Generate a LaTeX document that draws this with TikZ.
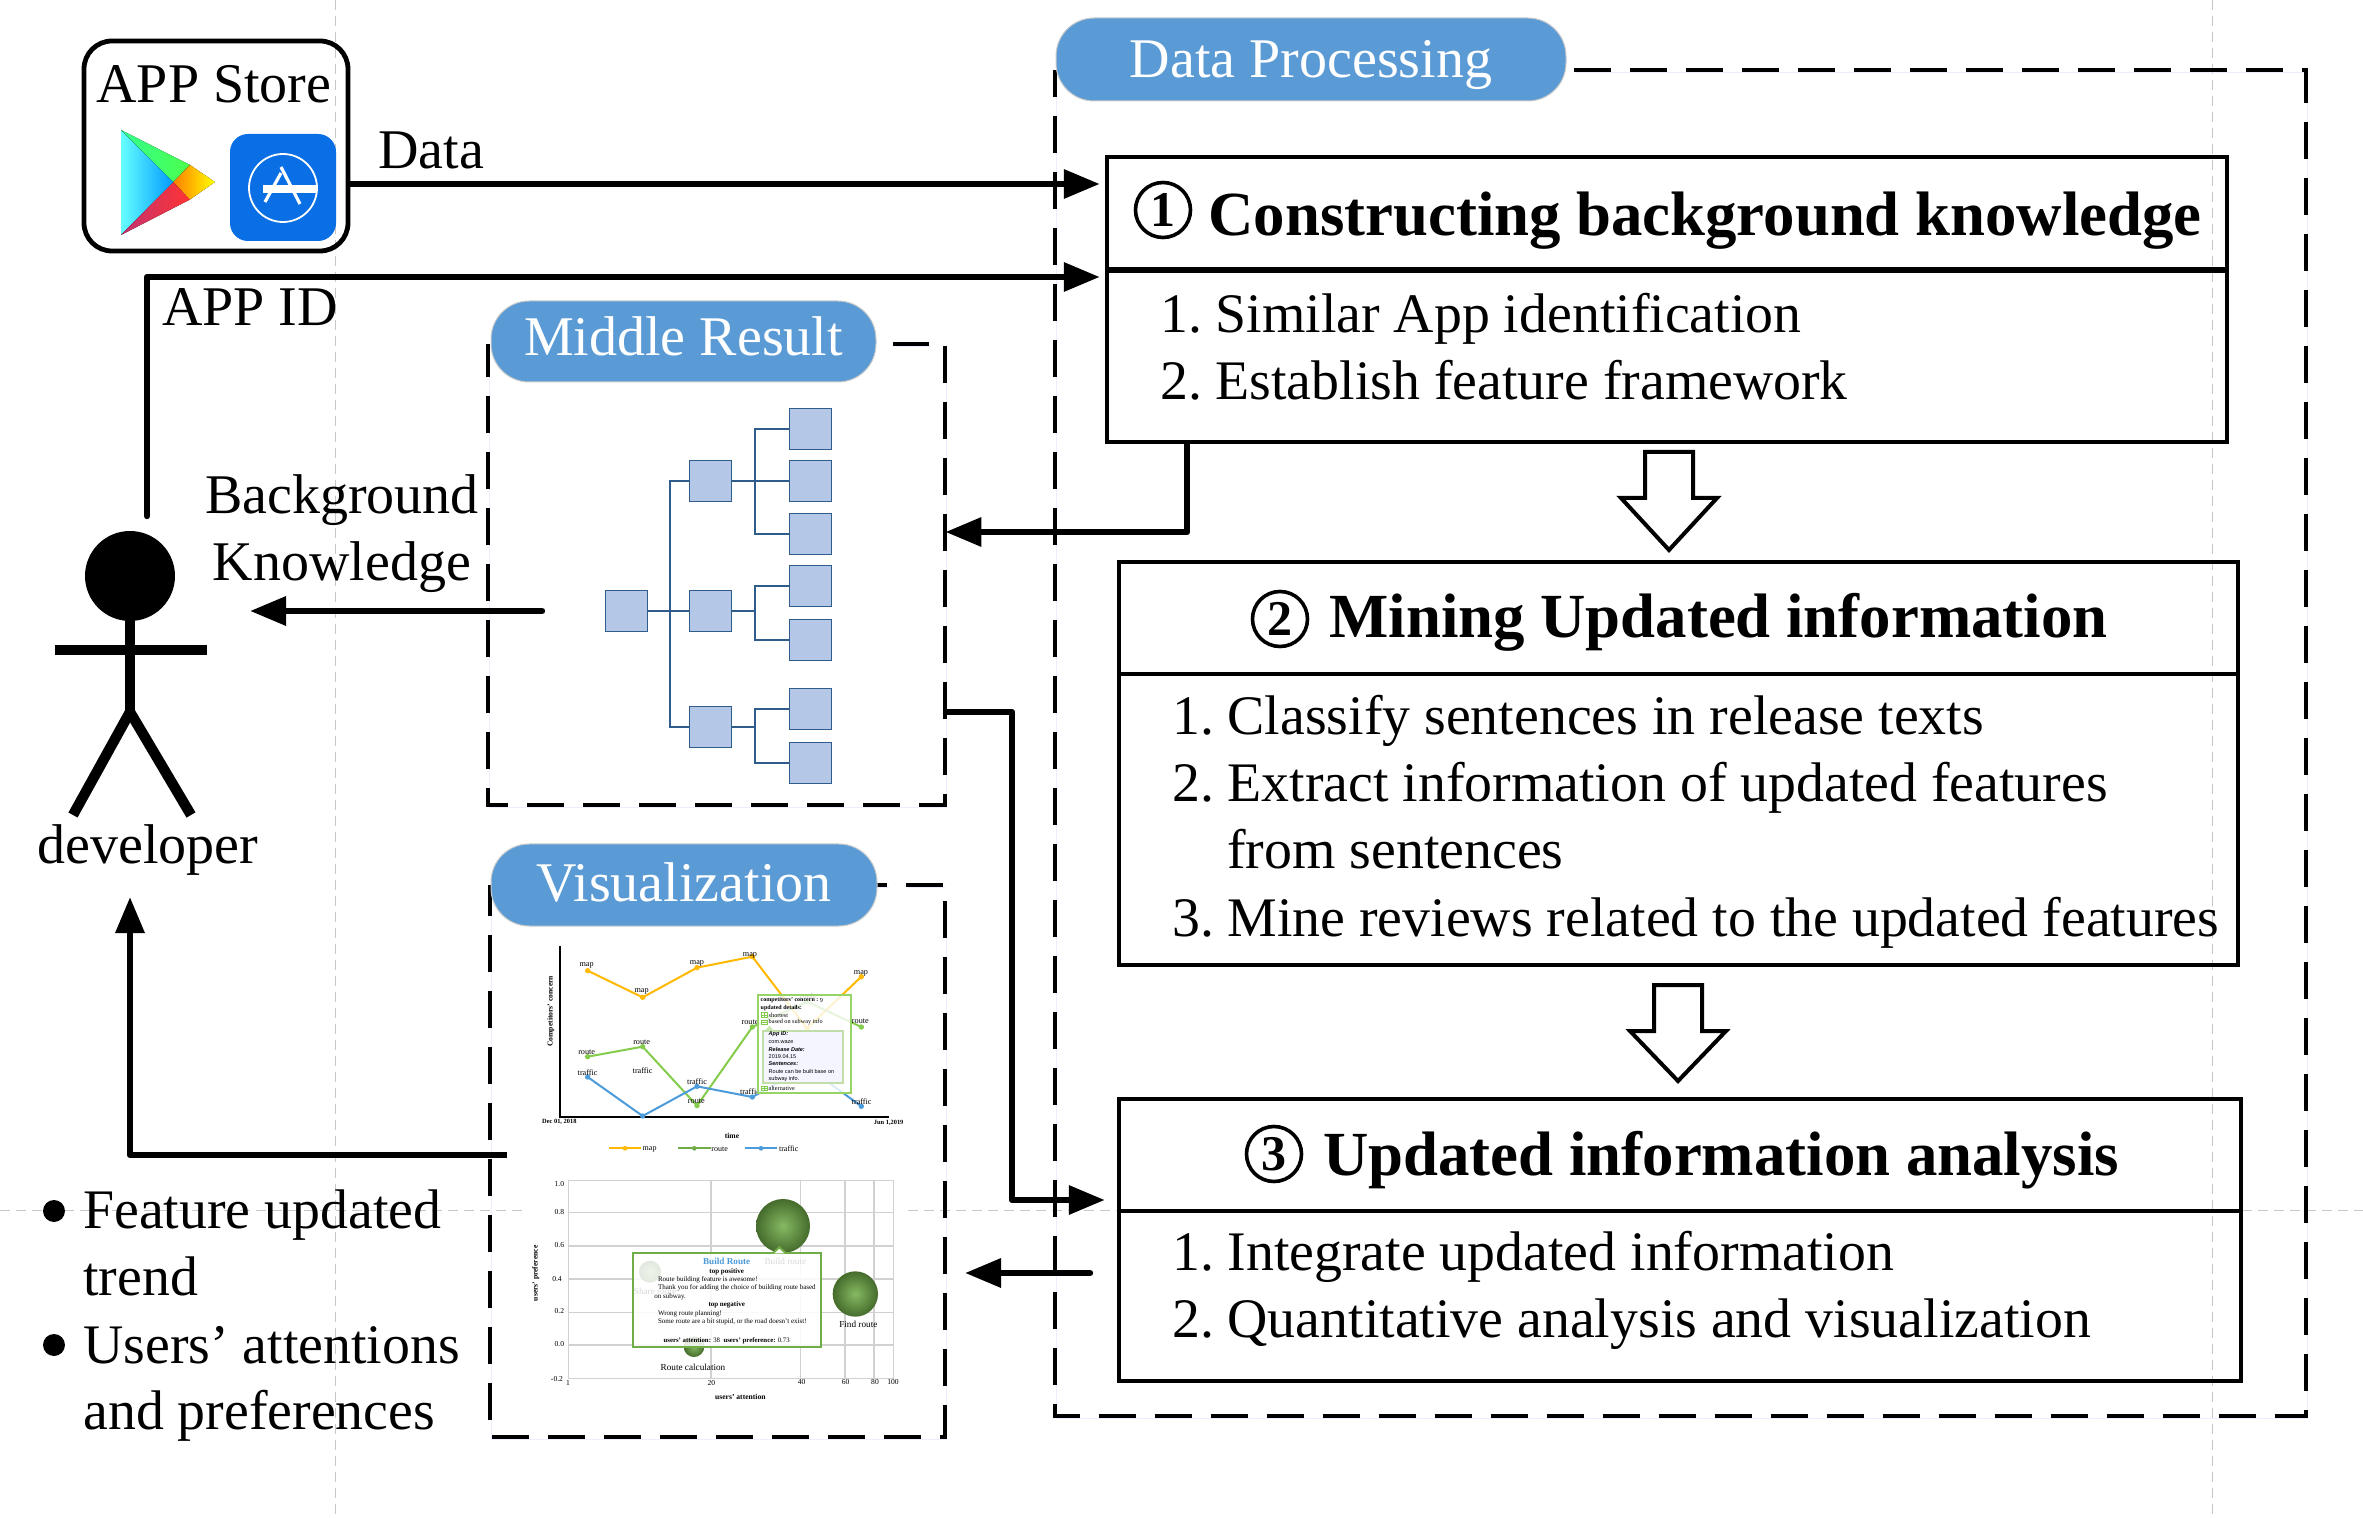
\documentclass[tikz,border=0pt]{standalone}
\usepackage{fontspec}
\setmainfont{Liberation Serif}
\newfontfamily\uisans{Liberation Sans}
\usetikzlibrary{arrows.meta,fit,calc}
\definecolor{pillblue}{HTML}{5B9BD5}
\definecolor{treefill}{HTML}{B4C7E7}
\definecolor{treeline}{HTML}{2F5C8A}
\definecolor{cmap}{HTML}{FFB900}
\definecolor{croute}{HTML}{84CC4B}
\definecolor{ctraffic}{HTML}{4C9BDB}
\definecolor{cbub}{HTML}{70AD47}
\newcommand{\fsz}[1]{\fontsize{#1}{#1}\selectfont}
\tikzset{
  conn/.style={line width=3.2pt,line join=round,-{Triangle[length=18pt,width=14pt]}},
  dashline/.style={line width=2.2pt,dash pattern=on 18.5pt off 9.5pt,
    preaction={draw=blue!7,transform canvas={shift={(.8pt,-1.4pt)}}}},
  pill/.style={draw=black!20,line width=.5pt,fill=pillblue,text=white,rounded corners=19pt,font=\fsz{28},inner sep=0pt},
  outerbox/.style={draw,line width=2.2pt,inner sep=0pt,fit={#1}},
  item/.style={anchor=base west,font=\fsz{27.9},inner sep=0pt},
  head/.style={anchor=base west,font=\bfseries\fsz{31.4},inner sep=0pt},
  plain/.style={font=\fsz{28},inner sep=0pt},
  tree/.style={draw=treeline,line width=.5pt,fill=treefill,inner sep=0pt,minimum width=21pt,minimum height=20.5pt},
  treelink/.style={draw=treeline,line width=1pt},
  hollow/.style={draw,line width=2pt,fill=white,line join=miter},
  numcirc/.style={circle,draw,line width=1.8pt,inner sep=0pt,minimum size=27.5pt,font=\bfseries\fsz{25}},
  guide/.style={draw=black!22,line width=.4pt,dash pattern=on 5pt off 3pt},
  tiny/.style={inner sep=0pt,font=\fsz{4.1}},
  tinyb/.style={inner sep=0pt,font=\bfseries\fsz{3.8}},
  tl/.style={inner sep=0pt,anchor=west,font=\fsz{3.5}},
  tlb/.style={inner sep=0pt,anchor=west,font=\bfseries\fsz{3}},
  tls/.style={inner sep=0pt,anchor=west,font=\uisans\fsz{2.75}},
  tlsb/.style={inner sep=0pt,anchor=west,font=\uisans\bfseries\itshape\fsz{2.75}},
  bublabel/.style={inner sep=0pt,font=\fsz{4.6}},
}
\newcommand{\nm}[1]{#1\hspace{.24em}}
\begin{document}
\begin{tikzpicture}[x=0.5pt,y=-0.5pt]
\useasboundingbox (0,0) rectangle (2363,1518);
\fill[white] (0,0) rectangle (2363,1518);

% faint guides
\draw[guide] (335,0) -- (335,1518);
\draw[guide] (2212,0) -- (2212,1518);
\draw[guide] (0,1210) -- (525,1210);
\draw[guide] (908,1210) -- (1119,1210);
\draw[guide] (2242,1210) -- (2363,1210);

% APP store
\node (store) [draw,line width=2.4pt,rounded corners=14pt,inner sep=0pt,fit={(84,41)(348,251)}] {};
\node (storetxt) [plain] at (214,84) {APP Store};
\fill[left color=cyan!60!white,right color=blue!40!cyan] (121,130) -- (121,235) -- (173.5,182) -- cycle;
\fill[left color=green!55!cyan!80,right color=green!70!white] (121,130) -- (190,165) -- (173.5,182) -- cycle;
\fill[left color=red!70!blue!80,right color=red!80!white] (121,235) -- (173.5,182) -- (190,199.5) -- cycle;
\fill[left color=orange,right color=yellow] (190,165) -- (215,182) -- (190,199.5) -- (173.5,182) -- cycle;
\fill[rounded corners=9pt,fill={rgb,255:red,10;green,110;blue,228}] (230,134) rectangle (336,241);
\draw[white,line width=.9pt] (283,188) circle [radius=34];
\fill[white] (263,185) rectangle (316,193);
\draw[white,line width=1.6pt] (281,167) -- (300,204);
\draw[white,line width=1.6pt] (281,173) -- (265,202);

% developer
\node (dhead) [circle,fill=black,inner sep=0pt,minimum size=45pt] at (130,576) {};
\coordinate (hip) at (130,712);
\draw[line width=5.2pt] (dhead.south) -- (hip);
\draw[line width=5.2pt] (55,650) -- (207,650);
\draw[line width=5.2pt] (73,815) -- (hip) -- (191,815);
\node (devtxt) [plain] at (148,850) {developer};

% Data Processing
\node (dp) [inner sep=0pt,fit={(1055,70)(2306,1416)}] {};
\draw[dashline] (1574,70) -- (2306,70) -- (2306,1416) -- (1055,1416) -- (1055,70);

% boxes
\node (b1) [outerbox={(1107,157)(2227,442)}] {};
\draw[line width=3.2pt] (1107,270) -- (2227,270);
\node (b2) [outerbox={(1119,562)(2238,965)}] {};
\draw[line width=2.2pt] (1119,674) -- (2238,674);
\node (b3) [outerbox={(1119,1099)(2241,1381)}] {};
\draw[line width=2.2pt] (1119,1211) -- (2241,1211);

\node (c1) [numcirc] at (1163,210) {1};
\node (t1) [head] at (1208,236) {Constructing background knowledge};
\node (i11) [item] at (1160,333) {\nm{1.}Similar App identification};
\node (i12) [item] at (1160,400) {\nm{2.}Establish feature framework};

\node (c2) [numcirc] at (1280,619) {2};
\node (t2) [head] at (1329,638) {Mining Updated information};
\node (i21) [item] at (1172,735) {\nm{1.}Classify sentences in release texts};
\node (i22) [item] at (1172,802) {\nm{2.}Extract information of updated features};
\node (i22b) [item] at (1227,869) {from sentences};
\node (i23) [item] at (1172,936) {\nm{3.}Mine reviews related to the updated features};

\node (c3) [numcirc] at (1274,1154) {3};
\node (t3) [head] at (1323,1175) {Updated information analysis};
\node (i31) [item] at (1172,1270) {\nm{1.}Integrate updated information};
\node (i32) [item] at (1172,1337) {\nm{2.}Quantitative analysis and visualization};

% hollow arrows
\draw[hollow] (1645,452) -- (1693,452) -- (1693,498) -- (1717,498) -- (1669,550) -- (1621,498) -- (1645,498) -- cycle;
\draw[hollow] (1654,985) -- (1702,985) -- (1702,1031) -- (1726,1031) -- (1678,1081) -- (1630,1031) -- (1654,1031) -- cycle;

% pills
\node (pdp) [pill,minimum width=255pt,minimum height=41.5pt] at (1311,59.5) {\raisebox{-8.8pt}[0pt][0pt]{Data Processing}};

% Middle Result
\node (mid) [inner sep=0pt,fit={(488,344)(945,805)}] {};
\draw[dashline] (945,346) -- (945,805) -- (488,805) -- (488,344);
\draw[dashline] (893,344) -- (929,344);
\node (pmid) [pill,minimum width=192.5pt,minimum height=40.5pt] at (683.5,341.5) {\raisebox{-7.1pt}[0pt][0pt]{Middle Result}};

% tree
\node (r0) [tree] at (626,611.5) {};
\node (n1) [tree] at (710,481.5) {};
\node (n2) [tree] at (710,611.5) {};
\node (n3) [tree] at (710,727) {};
\node (l1) [tree] at (810.5,429) {};
\node (l2) [tree] at (810.5,481.5) {};
\node (l3) [tree] at (810.5,534.5) {};
\node (l4) [tree] at (810,586) {};
\node (l5) [tree] at (810,640.5) {};
\node (l6) [tree] at (810,709) {};
\node (l7) [tree] at (810,763.5) {};
\coordinate (bus1) at (670,0);
\coordinate (bus2) at (755,0);
\draw[treelink] (r0.east) -- (n2.west);
\draw[treelink] (n1.west) -| (bus1 |- r0) |- (n3.west);
\draw[treelink] (n1.east) -- (l2.west);
\draw[treelink] (l1.west) -| (bus2 |- n1) |- (l3.west);
\draw[treelink] (n2.east) -- (bus2 |- n2);
\draw[treelink] (l4.west) -| (bus2 |- n2) |- (l5.west);
\draw[treelink] (n3.east) -- (bus2 |- n3);
\draw[treelink] (l6.west) -| (bus2 |- n3) |- (l7.west);

% Visualization
\node (vis) [inner sep=0pt,fit={(490,885)(945,1437)}] {};
\draw[dashline] (945,901) -- (945,1437) -- (490,1437) -- (490,885);
\draw[dashline] (877,885) -- (887,885);
\draw[dashline] (906,885) -- (943,885);
\node (pvis) [pill,minimum width=193pt,minimum height=41pt] at (684,885) {\raisebox{-8.05pt}[0pt][0pt]{Visualization}};

% chart 1
\begin{scope}[shift={(500,880)},x=0.16667pt,y=-0.16667pt]
\draw[line width=1.1pt,line join=miter] (180,197) -- (180,710) -- (1168,710);
\foreach \c/\l in {cmap/{(263,272),(428,352),(591,263),(757,230),(921,445),(1084,290)},
  croute/{(263,530),(428,500),(591,677),(757,441),(921,365),(1084,441)},
  ctraffic/{(263,591),(428,708),(591,619),(757,651),(921,560),(1084,679)}}{
  \foreach \p [count=\i] in \l { \fill[\c] \p circle [radius=8]; }
}
\draw[cmap,line width=1pt] (263,272) -- (428,352) -- (591,263) -- (757,230) -- (921,445) -- (1084,290);
\draw[croute,line width=1pt] (263,530) -- (428,500) -- (591,677) -- (757,441) -- (921,365) -- (1084,441);
\draw[ctraffic,line width=1pt] (263,591) -- (428,708) -- (591,619) -- (757,651) -- (921,560) -- (1084,679);
\foreach \x/\y in {260/257,425/335,591/251,750/226,1083/281} \node[tiny] at (\x,\y) {map};
\foreach \x/\y in {260/516,425/486,589/665,750/427,1081/424,925/350} \node[tiny] at (\x,\y) {route};
\foreach \x/\y in {263/578,428/572,591/605,750/635,1085/665,919/546} \node[tiny] at (\x,\y) {traffic};
\node[tinyb,font=\bfseries\fsz{3.2}] at (178,727) {Dec 01, 2018};
\node[tinyb,font=\bfseries\fsz{3.2}] at (1166,728) {Jun 1,2019};
\node[tinyb] at (696,768) {time};
\node[tinyb,rotate=90] at (152,394) {Competitors’ concern};
\draw[cmap,line width=1pt] (327,805) -- (423,805); \fill[cmap] (375,805) circle [radius=7];
\draw[cbub,line width=1pt] (535,805) -- (632,805); \fill[cbub] (583,805) circle [radius=7];
\draw[ctraffic,line width=1pt] (734,805) -- (832,805); \fill[ctraffic] (783,805) circle [radius=7];
\node[tl,font=\fsz{4}] at (427,807) {map};
\node[tl,font=\fsz{4}] at (633,807) {route};
\node[tl,font=\fsz{4}] at (836,807) {traffic};
% popup
\fill[white,fill opacity=.82] (775,345) rectangle (1053,638);
\draw[croute!85!white,line width=.9pt] (775,345) rectangle (1053,638);
\fill[blue!4!white] (790,452) rectangle (1030,608);
\draw[croute!45!white!90!gray,line width=1pt] (790,452) rectangle (1030,608);
\fill[croute!45!white] (795,452) -- (808,437) -- (821,452) -- cycle;
\node[tlb] at (781,361) {competitors’ concern :};
\node[tl,font=\fsz{3.1}] at (958,361) {9};
\node[tlb] at (781,383) {updated details:};
\foreach \y/\t in {405/shortest,427/based on subway info,625/alternative}{
  \draw[croute,line width=.35pt] (784,\y-7) rectangle (803,\y+7);
  \draw[croute,line width=.35pt] (784,\y) -- (803,\y);
  \node[tl,font=\fsz{3.1}] at (805,\y) {\t};
}
\draw[croute,line width=.35pt] (793,398) -- (793,412);
\draw[croute,line width=.35pt] (793,618) -- (793,632);
\node[tlsb] at (805,463) {App ID:};
\node[tls] at (805,486) {com.waze};
\node[tlsb] at (805,508) {Release Date:};
\node[tls] at (805,530) {2019.04.15};
\node[tlsb] at (805,552) {Sentences:};
\node[tls] at (805,574) {Route can be built base on};
\node[tls] at (805,596) {subway info.};
\end{scope}

% chart 2
\begin{scope}[shift={(500,1150)},x=0.16667pt,y=-0.16667pt]
\foreach \y in {92,188,288,387,487,585,685} \draw[black!18,line width=.7pt] (205,\y) -- (1181,\y);
\foreach \x in {205,633,902,1035,1122,1181} \draw[black!18,line width=.7pt] (\x,92) -- (\x,685);
\foreach \x/\y/\t in {178/102/1.0,178/186/0.8,178/286/0.6,171/388/0.4,178/484/0.2,178/582/0.0,171/687/-0.2}
  \node[tiny,font=\fsz{3.8}] at (\x,\y) {\t};
\foreach \x/\y/\t in {204/700/1,634/700/20,905/697/40,1037/697/60,1125/697/80,1179/697/100}
  \node[tiny,font=\fsz{3.8}] at (\x,\y) {\t};
\node[tinyb] at (721,740) {users’ attention};
\node[tinyb,rotate=90] at (107,370) {users’ preference};
\foreach \x/\y/\r in {849/228/81,1066/432/68,582/590/31,450/365/33}
  \shade[inner color=cbub!85!white,outer color=cbub!62!black] (\x,\y) circle [radius=\r];
\node[bublabel] at (1075,524) {Find route};
\node[bublabel] at (579,652) {Route calculation};
\node[bublabel] at (465,424) {Share route};
\node[bublabel] at (856,334) {Build route};
\fill[white,fill opacity=.85] (400,310) rectangle (962,590);
\draw[cbub,line width=1pt] (400,310) rectangle (962,590);
\draw[cbub,line width=1pt,fill=white] (818,310) -- (838,292) -- (858,310);
\node[inner sep=0pt,font=\bfseries\fsz{4.6},text=ctraffic] at (680,334) {Build Route};
\node[tinyb,font=\bfseries\fsz{3.5}] at (680,364) {top positive};
\node[tl] at (473,389) {Route building feature is awesome!};
\node[tl] at (473,414) {Thank you for adding the choice of building route based};
\node[tl] at (462,440) {on subway.};
\node[tinyb,font=\bfseries\fsz{3.5}] at (680,465) {top negative};
\node[tl] at (473,490) {Wrong route planning!};
\node[tl] at (473,514) {Some route are a bit stupid, or the road doesn't exist!};
\node[tiny,font=\fsz{3.4}] at (680,572) {\textbf{users’ attention:} 38\ \ \textbf{users’ preference:} 0.73};
\end{scope}

% labels
\node (ldata) [plain] at (431,150) {Data};
\node (lid) [plain] at (250,307) {APP ID};
\node (lbg) [plain] at (342,500) {Background};
\node (lkn) [plain] at (342,567) {Knowledge};

% bullets
\node (s1) [item] at (83,1228) {Feature updated};
\node (s2) [item] at (83,1295) {trend};
\node (s3) [item] at (83,1363) {Users’ attentions};
\node (s4) [item] at (83,1429) {and preferences};
\fill (54,1211) circle [radius=11];
\fill (54,1345) circle [radius=11];

% connectors
\coordinate (dataY) at (0,184);
\coordinate (idS) at (147,516);
\coordinate (idY) at (0,277);
\coordinate (kS) at (1187,442);
\coordinate (kY) at (0,532);
\coordinate (mS) at (945,712);
\coordinate (mX) at (1012,0);
\coordinate (mY) at (0,1200);
\coordinate (bgS) at (542,611);
\coordinate (devBG) at (250,611);
\coordinate (aS) at (1090,1273);
\coordinate (aE) at (965,1273);
\coordinate (vS) at (507,1155);
\coordinate (devV) at (130,897);
\draw[conn,shorten >=2.5pt] (store.east |- dataY) -- (b1.west |- dataY);
\draw[conn,shorten >=2.5pt,line cap=round] (idS) |- (b1.west |- idY);
\draw[conn] (kS) |- (mid.east |- kY);
\draw[conn,shorten >=6pt] (mS) -| (mX |- mY) -- (b3.west |- mY);
\draw[conn,line cap=round] (bgS) -- (devBG);
\draw[conn,line cap=round] (aS) -- (aE);
\draw[conn] (vS) -| (devV);
\end{tikzpicture}
\end{document}
